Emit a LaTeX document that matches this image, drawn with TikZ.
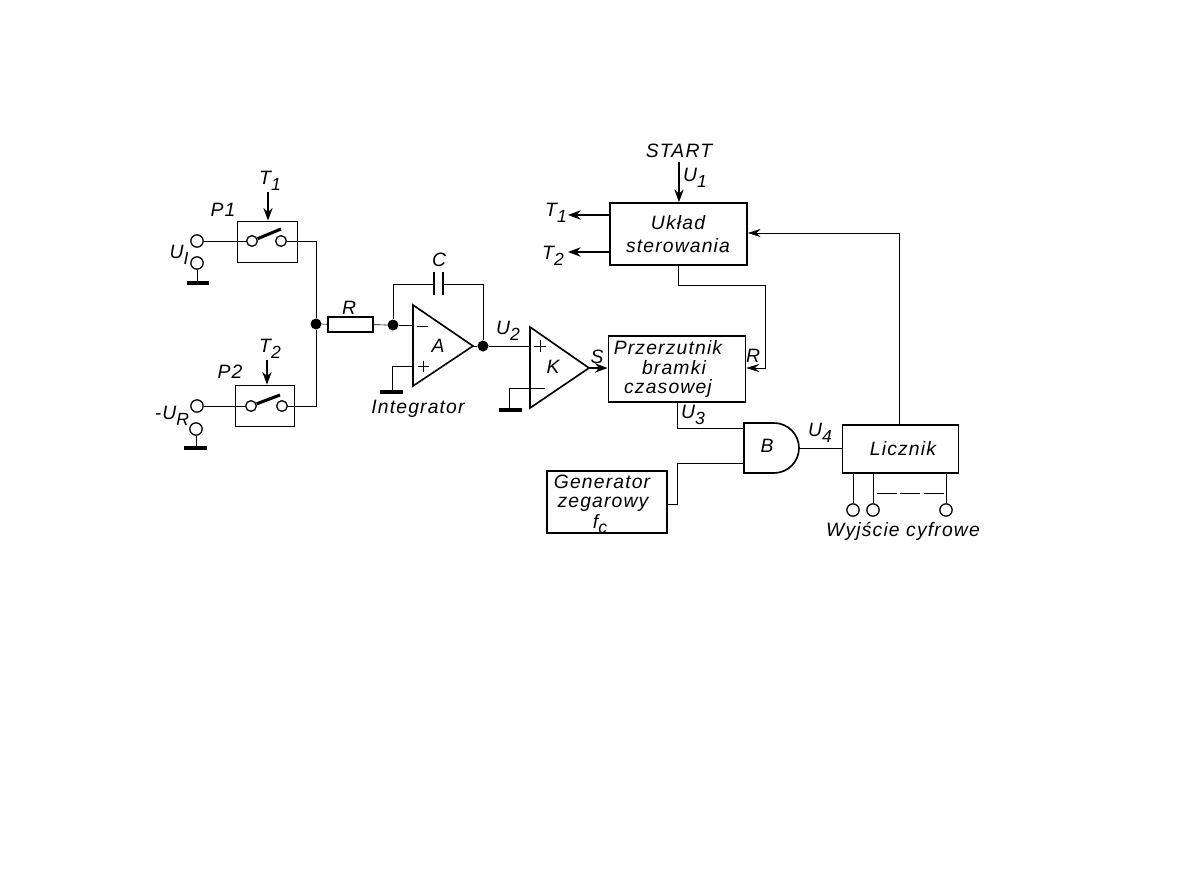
\documentclass[tikz,border=0pt]{standalone}
\usepackage{fontspec}
\usepackage{tikz}
\usetikzlibrary{arrows.meta, positioning}
\setmainfont[LetterSpace=6]{Liberation Sans}
\newcommand{\idx}[1]{\raisebox{-0.55ex}{\fontsize{15}{15}\selectfont #1}}
\tikzset{
    box/.style={rectangle, draw, line width=1.5pt, inner sep=0pt, align=center, font=\labelsize},
    switchbox/.style={rectangle, draw, line width=0.7pt, inner sep=0pt},
    label/.style={inner sep=0pt, align=center, font=\labelsize},
    contact/.style={circle, draw, line width=1.1pt, fill=white, minimum size=0.32cm, inner sep=0pt},
    terminal/.style={contact, minimum size=0.37cm},
    junction/.style={circle, fill=black, minimum size=0.33cm, inner sep=0pt},
    wire/.style={line width=0.6pt},
    arrow/.style={-{Stealth[length=3.8mm, width=2.8mm]}, line width=1.1pt},
    thinarrow/.style={-{Stealth[length=3.8mm, width=2.4mm]}, line width=0.6pt},
    blade/.style={line width=2.6pt},
    earth/.style={line width=2.6pt},
    opamp/.style={draw, line width=1.4pt, line join=miter}
}
\newcommand{\labelsize}{\fontsize{16.5}{19}\selectfont\itshape}

\begin{document}
\begin{tikzpicture}[x=0.03cm, y=-0.03cm]
    \useasboundingbox[fill=white] (0,0) rectangle (1191,893);

    % Input switches
    \node[switchbox, minimum width=1.8cm, minimum height=1.23cm] (p1_box) at (267,241.5) {};
    \node[switchbox, minimum width=1.77cm, minimum height=1.23cm] (p2_box) at (264.5,405.5) {};
    \node[contact] (p1_in) at (252,241) {};
    \node[contact] (p1_out) at (281,241) {};
    \node[contact] (p2_in) at (251,406) {};
    \node[contact] (p2_out) at (282,406) {};
    \node[terminal] (ui_top) at (197,241) {};
    \node[terminal] (ui_low) at (197,263) {};
    \node[terminal] (ur_top) at (197,406) {};
    \node[terminal] (ur_low) at (196,429) {};
    \coordinate (ui_gnd) at (197,283);
    \coordinate (ur_gnd) at (196,448);
    \coordinate (p1_tip) at (281,229);
    \coordinate (p2_tip) at (280,395);
    \coordinate (p1_ctl) at (268,192);
    \coordinate (p2_ctl) at (267,360);
    \draw[blade] (p1_in) -- (p1_tip);
    \draw[blade] (p2_in) -- (p2_tip);
    \draw[wire] (ui_top) -- (p1_in);
    \draw[wire] (ur_top) -- (p2_in);
    \draw[wire] (ui_low) -- (ui_gnd);
    \draw[wire] (ur_low) -- (ur_gnd);
    \draw[earth] (187,283) -- (ui_gnd) -- (209,283);
    \draw[earth] (184,448) -- (ur_gnd) -- (207,448);
    \draw[arrow] (p1_ctl) -- (p1_ctl |- p1_box.north);
    \draw[arrow] (p2_ctl) -- (p2_ctl |- p2_box.north);

    % Integrator
    \node[junction] (sum) at (316,324) {};
    \node[box, minimum width=1.35cm, minimum height=0.45cm] (res) at (350.5,324.5) {};
    \node[junction] (inv) at (393,325) {};
    \node[junction] (int_out) at (483,346) {};
    \coordinate (a_minus) at (413,325);
    \coordinate (a_plus) at (413,366);
    \coordinate (a_gnd) at (392,392);
    \coordinate (c_left) at (434,284);
    \coordinate (c_right) at (443,284);
    \draw[opamp] (413,305) -- (473,346) -- (413,386) -- cycle;
    \draw[wire] (p1_out) -| (sum);
    \draw[wire] (p2_out) -| (sum);
    \draw[wire] (sum) -- (res);
    \draw[wire] (res) -- (inv);
    \draw[wire] (inv) -- (a_minus);
    \draw[wire] (inv) |- (c_left);
    \draw[wire] (c_right) -| (int_out);
    \draw[wire] (a_plus) -| (a_gnd);
    \draw[earth] (380,392) -- (a_gnd) -- (403,392);
    \draw[line width=2pt] (434,272) -- (434,295);
    \draw[line width=2pt] (443,272) -- (443,295);
    \draw[wire] (417,326) -- (428,326);
    \draw[wire] (418,366) -- (429,366);
    \draw[wire] (423.5,360.5) -- (423.5,371.5);

    % Comparator
    \coordinate (k_in) at (530,346);
    \coordinate (k_out) at (589,368);
    \coordinate (k_ref) at (545,388);
    \coordinate (k_gnd) at (509,410);
    \draw[opamp] (530,327) -- (k_out) -- (530,408) -- cycle;
    \draw[wire] (int_out) -- (473,346);
    \draw[wire] (int_out) -- (k_in);
    \draw[wire] (k_ref) -| (k_gnd);
    \draw[earth] (499,410) -- (k_gnd) -- (522,410);
    \draw[wire] (534,346) -- (546,346);
    \draw[wire] (540,340) -- (540,352);

    % Control logic blocks
    \node[box, minimum width=4.11cm, minimum height=1.86cm] (control) at (678.5,234) {};
    \node[box, minimum width=4.11cm, minimum height=1.98cm] (flipflop) at (677,369) {};
    \node[box, minimum width=3.6cm, minimum height=1.86cm] (clock) at (607,502) {};
    \node[box, minimum width=3.48cm, minimum height=1.44cm] (counter) at (900.5,449) {};
    \coordinate (start) at (679,162);
    \coordinate (t1_end) at (568,215);
    \coordinate (t2_end) at (568,252);
    \draw[arrow] (start) -- (start |- control.north);
    \draw[arrow] (control.west |- t1_end) -- (t1_end);
    \draw[arrow] (control.west |- t2_end) -- (t2_end);
    \draw[arrow, line width=1.8pt] (k_out) -- (k_out -| flipflop.west);
    \coordinate (r_turn) at (765,285);
    \draw[wire] (control.south) |- (r_turn);
    \draw[thinarrow] (r_turn) |- (flipflop.east |- k_out);
    \draw[thinarrow] (counter.north -| 899,0) |- (control.east |- 0,233);

    % AND gate and its inputs
    \coordinate (b_a) at (744,428);
    \coordinate (b_b) at (744,463);
    \coordinate (b_out) at (799,448);
    \draw[opamp] (744,423) -- (774,423) arc[start angle=90, end angle=-90, x radius=25, y radius=-25] -- (744,473) -- cycle;
    \draw[wire] (flipflop.south) |- (b_a);
    \draw[wire] (clock.east |- 0,504) -| (677,463) -- (b_b);
    \draw[wire] (b_out) -- (counter.west |- b_out);

    % Digital outputs
    \node[terminal] (out_a) at (853,510) {};
    \node[terminal] (out_b) at (873,510) {};
    \node[terminal] (out_c) at (946,510) {};
    \draw[wire] (out_a) -- (out_a |- counter.south);
    \draw[wire] (out_b) -- (out_b |- counter.south);
    \draw[wire] (out_c) -- (out_c |- counter.south);
    \draw[wire, dash pattern=on 0.6cm off 0.1cm] (877,493) -- (946,493);

    % Labels
    \node[label] (t1_sw) at (270,181) {T\idx{1}};
    \node[label] (t2_sw) at (270,349) {T\idx{2}};
    \node[label] (p1_lab) at (223,210) {P1};
    \node[label] (p2_lab) at (230,372) {P2};
    \node[label] (ui_lab) at (179,255) {U\idx{I}};
    \node[label] (ur_lab) at (172,416) {-U\idx{R}};
    \node[label] (r_lab) at (349,308) {R};
    \node[label] (c_lab) at (439,260) {C};
    \node[label] (a_lab) at (438,346) {A};
    \node[label] (k_lab) at (553,367) {K};
    \node[label] (int_lab) at (418,409) {Integrator};
    \node[label] (u2_lab) at (508,331) {U\idx{2}};
    \node[label] (s_lab) at (597,357) {S};
    \node[label] (r_in_lab) at (753,356) {R};
    \node[label] (start_lab) at (679,151) {START};
    \node[label] (u1_lab) at (695,178) {U\idx{1}};
    \node[label] (t1_lab) at (556,213) {T\idx{1}};
    \node[label] (t2_lab) at (553,256) {T\idx{2}};
    \node[label] (control_lab) at (678,234) {Układ\\sterowania};
    \node[label] at (668,348) (ff_a) {Przerzutnik};
    \node[label] at (674,368) (ff_b) {bramki};
    \node[label] at (668,388) (ff_c) {czasowej};
    \node[label] (u3_lab) at (693,415) {U\idx{3}};
    \node[label] (b_lab) at (767,446) {B};
    \node[label] (u4_lab) at (820,433) {U\idx{4}};
    \node[label] (counter_lab) at (903,449) {Licznik};
    \node[label] at (602,482) (gen_a) {Generator};
    \node[label] at (603,504) (gen_b) {zegarowy};
    \node[label] at (600,524) (gen_c) {f\idx{c}};
    \node[label] (out_lab) at (903,531) {Wyjście cyfrowe};
\end{tikzpicture}
\end{document}
